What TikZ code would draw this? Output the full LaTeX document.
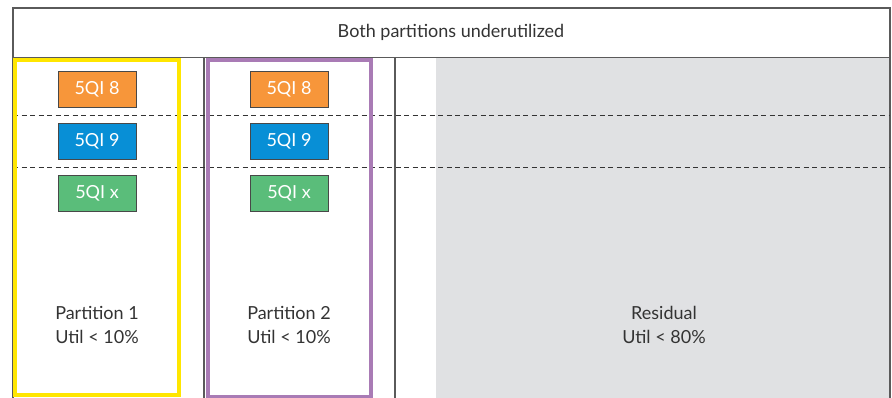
\documentclass[tikz,border=0pt]{standalone}
\usepackage{fontspec}
\setmainfont{Lato}
\definecolor{frame}{HTML}{5A5A5A}
\definecolor{resid}{HTML}{E0E1E3}
\definecolor{qorange}{HTML}{F7963A}
\definecolor{qblue}{HTML}{088FD6}
\definecolor{qgreen}{HTML}{5ABD7A}
\definecolor{pyellow}{HTML}{FFE600}
\definecolor{ppurple}{HTML}{A97BB5}
\definecolor{txt}{HTML}{333333}
\begin{document}
\begin{tikzpicture}[x=1pt,y=-1pt,
  qbox/.style={draw=frame!80!black,line width=0.9pt,minimum width=78pt,minimum height=36pt,inner sep=0pt,text=white,font=\fontsize{18}{20}\selectfont},
  lbl/.style={align=center,text=txt,font=\fontsize{18}{24}\selectfont},
  frameline/.style={draw=frame,line width=1.4pt},
  sep/.style={draw=txt,line width=0.9pt,dash pattern=on 5pt off 3.5pt}]
\useasboundingbox (0,0) rectangle (892,397);
% residual fill
\fill[resid] (436,58) rectangle (890,400);
% title row
\draw[frameline] (13,400) -- (13,8) -- (890,8) -- (890,400);
\draw[frameline] (13,57.5) -- (890,57.5);
\node[font=\fontsize{18}{20}\selectfont,text=txt] (title) at (451,32) {Both partitions underutilized};
% vertical separators
\draw[frameline] (204,57.5) -- (204,400);
\draw[frameline] (395,57.5) -- (395,400);
% dashed
\draw[sep] (13,115) -- (890,115);
\draw[sep] (13,167) -- (890,167);
% partitions
\draw[pyellow,line width=4pt] (15,60) rectangle (179,395);
\draw[ppurple,line width=4pt] (208,60) rectangle (370.5,397);
% qos boxes
\node[qbox,fill=qorange] (a8) at (97,89) {5QI 8};
\node[qbox,fill=qblue] (a9) at (97,141) {5QI 9};
\node[qbox,fill=qgreen] (ax) at (97,193.5) {5QI x};
\node[qbox,fill=qorange] (b8) at (289,89) {5QI 8};
\node[qbox,fill=qblue] (b9) at (289,141) {5QI 9};
\node[qbox,fill=qgreen] (bx) at (289,193.5) {5QI x};
% labels
\node[lbl] (p1) at (97,325) {Partition 1\\Util < 10\%};
\node[lbl] (p2) at (289,325) {Partition 2\\Util < 10\%};
\node[lbl] (res) at (664,325) {Residual\\Util < 80\%};
\end{tikzpicture}
\end{document}
